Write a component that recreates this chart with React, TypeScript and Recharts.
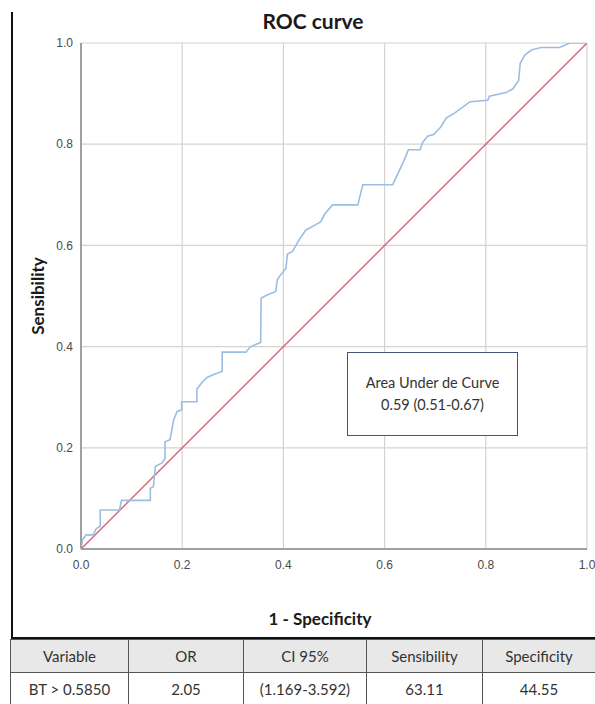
import { CartesianGrid, Label, Line, LineChart, XAxis, YAxis } from 'recharts';

// ROC curve points (1 - specificity, sensitivity)
const falsePositiveRate = [
  0, 0.003, 0.01, 0.024, 0.03, 0.038, 0.038, 0.076, 0.08, 0.137, 0.137, 0.143, 0.147, 0.16, 0.166,
  0.166, 0.176, 0.183, 0.19, 0.199, 0.199, 0.229, 0.229, 0.239, 0.249, 0.262, 0.279, 0.279, 0.326,
  0.335, 0.355, 0.356, 0.368, 0.385, 0.388, 0.391, 0.405, 0.408, 0.418, 0.431, 0.444, 0.464, 0.474,
  0.481, 0.497, 0.547, 0.557, 0.616, 0.638, 0.647, 0.67, 0.675, 0.685, 0.697, 0.711, 0.722, 0.739,
  0.769, 0.804, 0.807, 0.84, 0.853, 0.865, 0.868, 0.877, 0.89, 0.909, 0.946, 0.966, 1,
];
const sensitivity = [
  0, 0.018, 0.028, 0.028, 0.04, 0.045, 0.077, 0.077, 0.096, 0.096, 0.12, 0.123, 0.163, 0.17, 0.179,
  0.212, 0.216, 0.255, 0.272, 0.275, 0.291, 0.291, 0.316, 0.329, 0.339, 0.345, 0.351, 0.389, 0.389,
  0.4, 0.408, 0.496, 0.502, 0.509, 0.532, 0.537, 0.555, 0.583, 0.588, 0.611, 0.63, 0.641, 0.647,
  0.661, 0.68, 0.68, 0.72, 0.72, 0.767, 0.789, 0.789, 0.803, 0.816, 0.819, 0.834, 0.852, 0.862,
  0.884, 0.887, 0.895, 0.902, 0.909, 0.926, 0.96, 0.976, 0.986, 0.991, 0.991, 1, 1,
];
const referenceLine = [0, 1];
const axisTicks = [0, 0.2, 0.4, 0.6, 0.8, 1];

const tableHeader = ['Variable', 'OR', 'CI 95%', 'Sensibility', 'Specificity'];
const tableRow = ['BT > 0.5850', '2.05', '(1.169-3.592)', '63.11', '44.55'];
const columnWidths = [118, 115, 123, 116, 113];

const rocData = falsePositiveRate.map((x, i) => ({ x, y: sensitivity[i] }));
const diagonalData = referenceLine.map((v) => ({ x: v, y: v }));

const tickStyle = { fill: '#4a4a4a', fontSize: 12, fontFamily: 'Liberation Sans, Arial, sans-serif' };
const labelFont = 'Lato, "Open Sans", sans-serif';

export default function App() {
  return (
    <div
      style={{
        position: 'absolute',
        left: 0,
        top: 0,
        width: 595,
        height: 704,
        overflow: 'hidden',
        background: '#fff',
        fontFamily: labelFont,
      }}
    >
      <div
        style={{
          position: 'absolute',
          left: 0,
          top: 8,
          width: 626,
          textAlign: 'center',
          fontSize: 21,
          fontWeight: 700,
          color: '#1a1a1a',
        }}
      >
        ROC curve
      </div>

      <div style={{ position: 'absolute', left: 0, top: 0 }}>
        <LineChart width={595} height={640} margin={{ top: 43, right: 8, left: 0, bottom: 0 }}>
          <CartesianGrid stroke="#d3d3d3" strokeWidth={1.2} />
          <XAxis
            type="number"
            dataKey="x"
            domain={[0, 1]}
            ticks={axisTicks}
            tickFormatter={(v: number) => v.toFixed(1)}
            height={91}
            tickLine={false}
            tickSize={6}
            tickMargin={5}
            axisLine={{ stroke: '#a0a0a0', strokeWidth: 2 }}
            tick={tickStyle}
            allowDataOverflow
          >
            <Label
              value="1 - Specificity"
              position="insideBottom"
              offset={15}
              dx={-14}
              style={{ fontSize: 17, fontWeight: 700, fill: '#1a1a1a', fontFamily: labelFont }}
            />
          </XAxis>
          <YAxis
            type="number"
            dataKey="y"
            domain={[0, 1]}
            ticks={axisTicks}
            tickFormatter={(v: number) => v.toFixed(1)}
            width={81}
            tickLine={false}
            tickSize={6}
            tickMargin={2}
            axisLine={{ stroke: '#a0a0a0', strokeWidth: 2 }}
            tick={tickStyle}
            allowDataOverflow
          >
            <Label
              value="Sensibility"
              angle={-90}
              position="center"
              dx={-3}
              style={{ fontSize: 17, fontWeight: 700, fill: '#1a1a1a', fontFamily: labelFont }}
            />
          </YAxis>
          <Line
            data={diagonalData}
            dataKey="y"
            type="linear"
            stroke="#d9646e"
            strokeWidth={1.4}
            dot={false}
            isAnimationActive={false}
          />
          <Line
            data={rocData}
            dataKey="y"
            type="linear"
            stroke="#9cbde2"
            strokeWidth={1.6}
            dot={false}
            isAnimationActive={false}
          />
        </LineChart>
      </div>

      <div
        style={{
          position: 'absolute',
          left: 347,
          top: 352,
          width: 169,
          height: 82,
          border: '1.5px solid #3f5776',
          background: '#fff',
          display: 'flex',
          flexDirection: 'column',
          justifyContent: 'center',
          alignItems: 'center',
          fontSize: 14.5,
          lineHeight: '22px',
          color: '#333',
        }}
      >
        <div>Area Under de Curve</div>
        <div>0.59 (0.51-0.67)</div>
      </div>

      <div style={{ position: 'absolute', left: 11, top: 12, width: 2, height: 627, background: '#111' }} />
      <div style={{ position: 'absolute', left: 11, top: 637, width: 584, height: 2, background: '#111' }} />

      <table
        style={{
          position: 'absolute',
          left: 10,
          top: 639,
          borderCollapse: 'collapse',
          tableLayout: 'fixed',
          width: 585,
          fontSize: 15,
          color: '#333',
          fontFamily: labelFont,
        }}
      >
        <colgroup>
          {columnWidths.map((w, i) => (
            <col key={i} style={{ width: w }} />
          ))}
        </colgroup>
        <tbody>
          <tr style={{ height: 33, background: '#e8e8e8' }}>
            {tableHeader.map((h) => (
              <td key={h} style={{ border: '1px solid #555', textAlign: 'center', padding: 0 }}>
                {h}
              </td>
            ))}
          </tr>
          <tr style={{ height: 33 }}>
            {tableRow.map((c) => (
              <td key={c} style={{ border: '1px solid #555', textAlign: 'center', padding: 0 }}>
                {c}
              </td>
            ))}
          </tr>
        </tbody>
      </table>
    </div>
  );
}
